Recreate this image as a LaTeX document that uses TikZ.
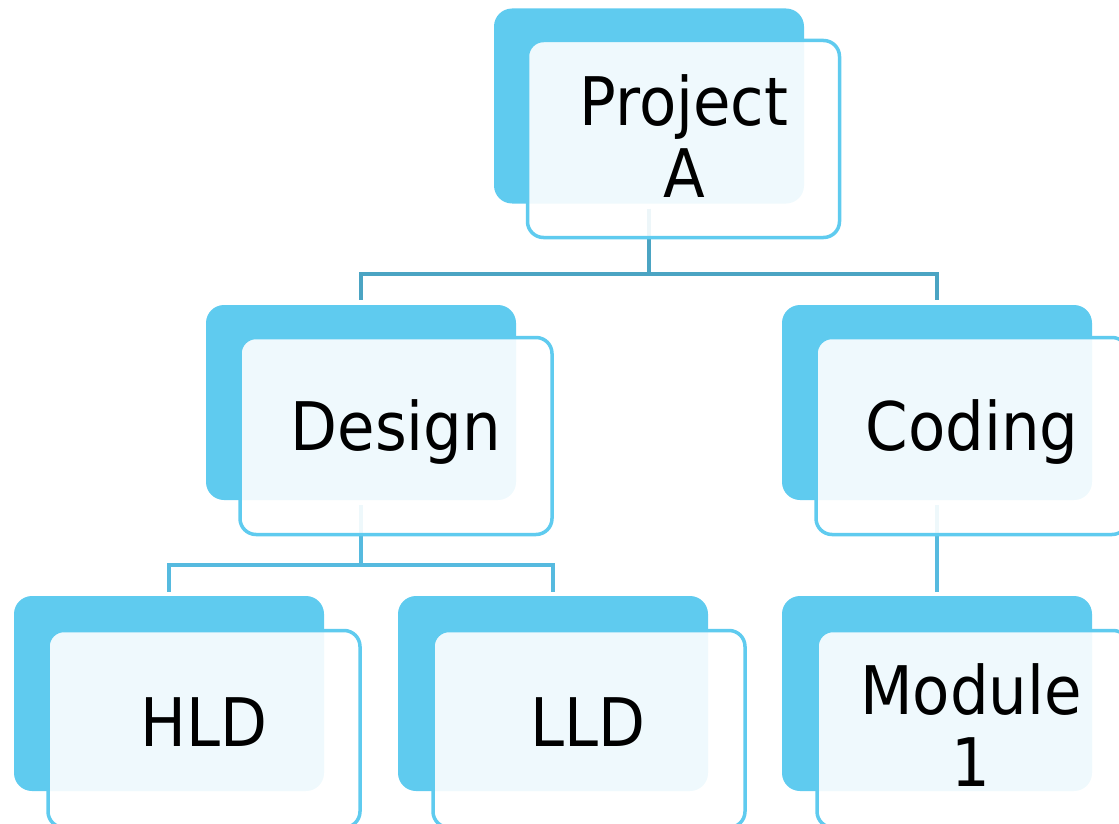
\documentclass[tikz,border=0pt]{standalone}
\usepackage{fontspec}
\setmainfont[FakeStretch=0.91]{DejaVu Sans}
\definecolor{boxblue}{HTML}{5FCBEF}
\definecolor{linedark}{HTML}{4BA4C3}
\definecolor{linelight}{HTML}{56BADF}
\tikzset{
  backbox/.style={draw=none, fill=boxblue, rounded corners=18pt, minimum width=310pt, minimum height=195pt, inner sep=0pt},
  frontbox/.style={draw=boxblue, line width=3.5pt, fill=white, fill opacity=0.9, rounded corners=16pt, minimum width=312pt, minimum height=197pt, inner sep=0pt},
  txt/.style={font=\fontsize{67}{72}\selectfont, align=center, text=black, inner sep=0pt},
  conn/.style={line width=3.2pt},
}
\begin{document}
\begin{tikzpicture}[x=1pt,y=-1pt]
\useasboundingbox (0,0) rectangle (1119,824);
\clip (0,0) rectangle (1119,824);
% back boxes
\node[backbox] (pb) at (649,106) {};
\node[backbox] (db) at (361,402.5) {};
\node[backbox] (cb) at (937,402.5) {};
\node[backbox] (hb) at (169,693.5) {};
\node[backbox] (lb) at (553,693.5) {};
\node[backbox] (mb) at (937,693.5) {};
% connectors
\coordinate (j1) at (649,274);
\coordinate (j2) at (361,565);
\draw[conn,linedark,shorten <=5pt,shorten >=5pt] (pb.south) -- (j1) -| (db.north);
\draw[conn,linedark,shorten >=5pt] (j1) -| (cb.north);
\draw[conn,linelight,shorten <=5pt,shorten >=4pt] (db.south) -- (j2) -| (hb.north);
\draw[conn,linelight,shorten >=4pt] (j2) -| (lb.north);
\draw[conn,linelight,shorten <=5pt,shorten >=4pt] (cb.south) -- (mb.north);
% front boxes
\node[frontbox] (pf) at (683.5,139) {};
\node[frontbox] (df) at (396,436) {};
\node[frontbox] (cf) at (972,436) {};
\node[frontbox] (hf) at (204,729) {};
\node[frontbox] (lf) at (589,729) {};
\node[frontbox] (mf) at (973,729) {};
% texts
\node[txt] (pt) at (684,136) {Project\\A};
\node[txt] (dt) at (396,432) {Design};
\node[txt] (ct) at (972,432) {Coding};
\node[txt] (ht) at (204,722) {HLD};
\node[txt] (lt) at (588,722) {LLD};
\node[txt] (mt) at (971,725) {Module\\1};
\end{tikzpicture}
\end{document}
